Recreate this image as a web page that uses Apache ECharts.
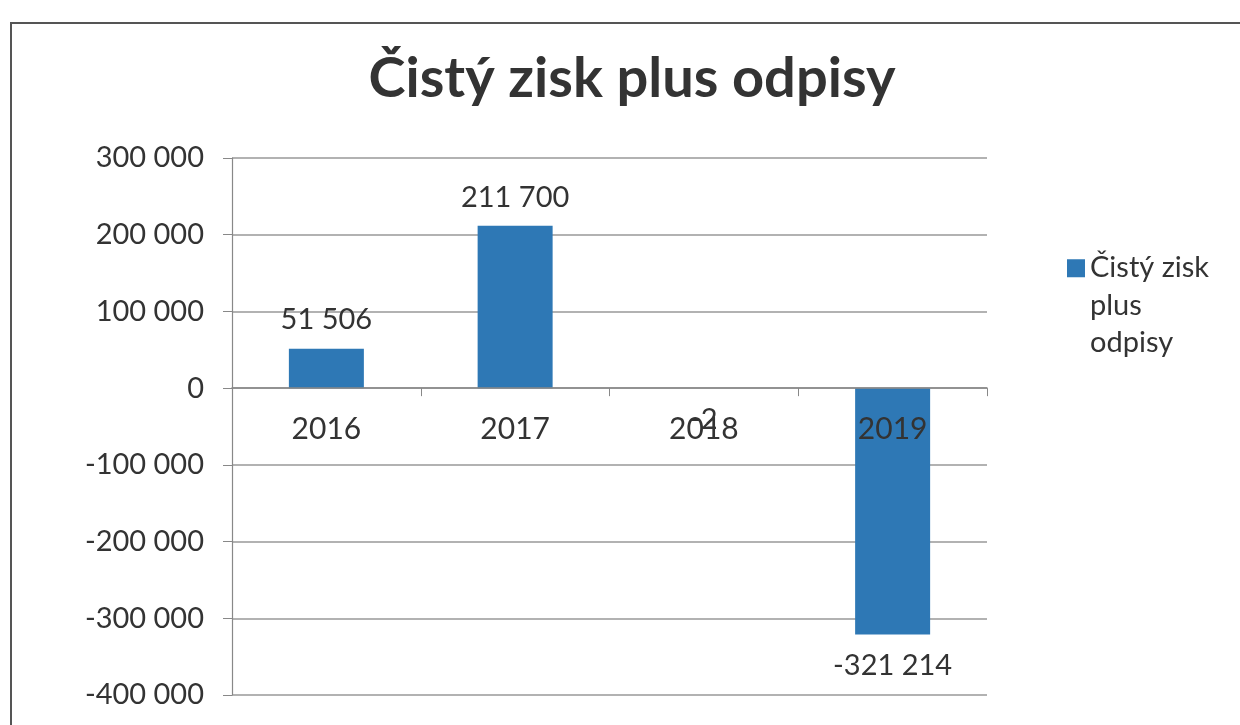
<!DOCTYPE html>
<html>
<head>
<meta charset="utf-8">
<script src="https://cdn.jsdelivr.net/npm/echarts@6/dist/echarts.min.js"></script>
<style>
html,body{margin:0;padding:0;background:#fff;}
#chart{width:1240px;height:725px;}
</style>
</head>
<body>
<div id="chart"></div>
<script>
var years = ['2016', '2017', '2018', '2019'];
var values = [51506, 211700, -2, -321214];
var seriesName = 'Čistý zisk plus odpisy';
var yMin = -400000, yMax = 300000, yStep = 100000;

function fmt(v){
	var s = String(Math.abs(v)).replace(/\B(?=(\d{3})+(?!\d))/g, ' ');
	return (v < 0 ? '-' : '') + s;
}

var chart = echarts.init(document.getElementById('chart'));
var font = 'Lato';
var gridTop = 158, gridBottom = 30;
// posun osy x na nulu (onZero ve v6 nechava popisky dole)
var plotH = 725 - gridTop - gridBottom;
var zeroOffset = -plotH * (0 - yMin) / (yMax - yMin);

var option = {
	backgroundColor: '#fff',
	animation: false,
	title: {
		text: seriesName,
		left: 627,
		textAlign: 'center',
		top: 46,
		textStyle: {fontFamily: font, fontSize: 56, fontWeight: 'bold', color: '#333'}
	},
	legend: {
		left: 1062,
		top: 244,
		orient: 'vertical',
		// ctverecek nahore, vyska ikony = vyska trojradkoveho textu
		icon: 'path://M0,0H10V10H0Z M0,50.99H0.01V51H0Z',
		itemWidth: 18,
		itemHeight: 92,
		formatter: function(){ return 'Čistý zisk\nplus\nodpisy'; },
		textStyle: {fontFamily: font, fontSize: 29, color: '#333', lineHeight: 37.5},
		data: [seriesName]
	},
	grid: {left: 232, right: 253, top: gridTop, bottom: gridBottom, containLabel: false, outerBoundsMode: 'none'},
	xAxis: {
		type: 'category',
		data: years,
		position: 'bottom',
		offset: zeroOffset,
		z: 3,	// popisek 2019 je pres sloupec
		axisLine: {onZero: false, lineStyle: {color: '#888', width: 1.5}},
		axisTick: {show: true, length: 8, lineStyle: {color: '#888'}},
		axisLabel: {fontFamily: font, fontSize: 30, color: '#333', margin: 26}
	},
	yAxis: {
		type: 'value',
		min: yMin,
		max: yMax,
		interval: yStep,
		axisLine: {show: true, lineStyle: {color: '#888', width: 1.2}},
		axisTick: {show: true, length: 9, lineStyle: {color: '#888'}},
		splitLine: {lineStyle: {color: '#999', width: 1.5}},
		axisLabel: {fontFamily: font, fontSize: 29, color: '#333', margin: 28, formatter: fmt}
	},
	series: [{
		name: seriesName,
		type: 'bar',
		barWidth: 75,
		itemStyle: {color: '#2e78b5'},
		data: values.map(function(v){
			return {
				value: v,
				label: {
					show: true,
					position: v < 0 ? 'bottom' : 'top',
					distance: v < 0 ? 17 : 14,
					fontFamily: font,
					fontSize: 29,
					color: '#333',
					formatter: function(p){ return fmt(p.value); }
				}
			};
		})
	}],
	graphic: [{
		type: 'rect',
		shape: {x: 11, y: 23, width: 1240, height: 720},
		style: {fill: 'none', stroke: '#555', lineWidth: 2}
	}]
};

chart.setOption(option);
</script>
</body>
</html>
